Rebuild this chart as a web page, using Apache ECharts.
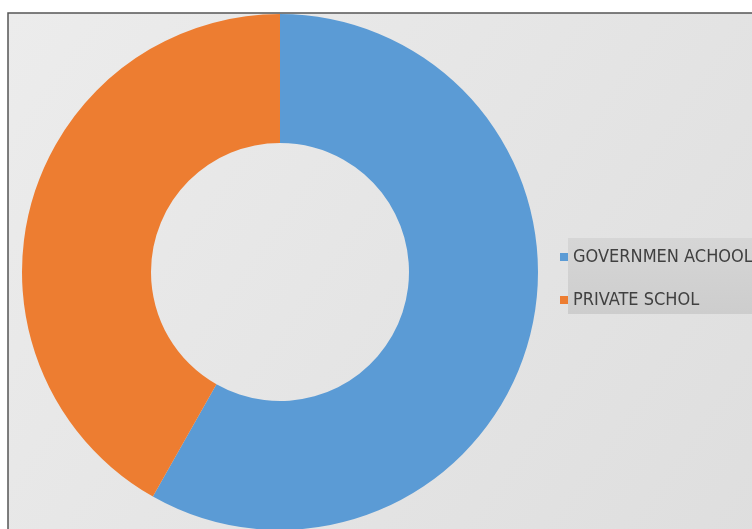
<!DOCTYPE html>
<html><head><meta charset="utf-8">
<script src="https://cdn.jsdelivr.net/npm/echarts@6/dist/echarts.min.js"></script>
<style>html,body{margin:0;padding:0;background:#fff}#c{width:752px;height:529px}</style>
</head><body><div id="c"></div>
<script>
const categories = ["GOVERNMEN ACHOOL", "PRIVATE SCHOL"];
const values = [58.2, 41.8];
const colors = ["#5b9bd5", "#ed7d31"];

const chart = echarts.init(document.getElementById('c'));
chart.setOption({
  animation: false,
  backgroundColor: '#ffffff',
  graphic: [
    { type: 'rect', z: -10, shape: { x: 8, y: 13, width: 760, height: 530 },
      style: { fill: new echarts.graphic.LinearGradient(0, 0, 1, 1, [
        { offset: 0, color: '#ececec' }, { offset: 1, color: '#dedede' }]),
        stroke: '#555555', lineWidth: 1.5 } },
    { type: 'rect', z: -5, shape: { x: 568, y: 238, width: 190, height: 76 },
      style: { fill: new echarts.graphic.LinearGradient(0, 0, 0, 1, [
        { offset: 0, color: '#d6d6d6' }, { offset: 1, color: '#cdcdcd' }]) } }
  ],
  legend: {
    orient: 'vertical', left: 555, top: 243,
    icon: 'rect', itemWidth: 8, itemHeight: 8, itemGap: 25,
    textStyle: { fontFamily: '"DejaVu Sans Condensed", "Liberation Sans Narrow", sans-serif', fontSize: 18, color: '#404040' },
    data: categories
  },
  series: [{
    type: 'pie',
    center: [280, 272],
    radius: [129, 258],
    startAngle: 90,
    label: { show: false }, labelLine: { show: false },
    emphasis: { disabled: true },
    data: categories.map((n, i) => ({ name: n, value: values[i], itemStyle: { color: colors[i] } }))
  }]
});
</script></body></html>
